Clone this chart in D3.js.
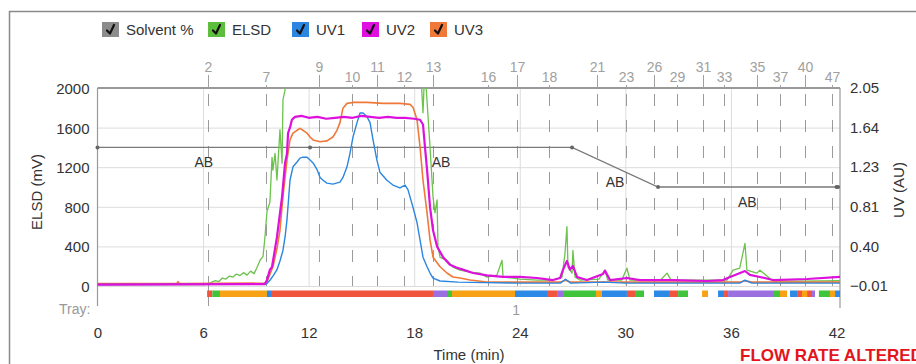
<!DOCTYPE html>
<html><head><meta charset="utf-8">
<script src="https://cdn.jsdelivr.net/npm/d3@7"></script>
<style>
body{margin:0;background:#fff;overflow:hidden;}
svg{font-family:"Liberation Sans",Arial,sans-serif;display:block;}
</style></head><body>
<svg id="c" width="916" height="364"></svg>
<script>
// ---------------- data ----------------
const xTicks=[0,6,12,18,24,30,36,42];
const elsdTicks=[0,400,800,1200,1600,2000];
const uvTicks=[-0.01,0.40,0.81,1.23,1.64,2.05];
const legendNames=["Solvent %","ELSD","UV1","UV2","UV3"];
const legendColors=["#8c8c8c","#5dbd3c","#2a86e0","#e010e0","#f07838"];

const fractionLabels=["2","7","9","10","11","12","13","16","17","18","21","23","26","29","31","33","35","37","40","47"];
const fractionTimes=[6.28,9.58,12.59,14.46,15.88,17.42,19.07,22.19,23.84,25.66,28.39,30.04,31.63,32.94,34.41,35.61,37.48,38.79,40.21,41.74];

const solventTime=[0,12.08,26.97,31.86,42.0,42.2];
const solventPct=[70,70,70,50,50,50];
const solventLabels=["AB","AB","AB","AB"];

const trayStart=[6.23,6.53,6.96,9.63,9.86,19.12,19.92,20.15,23.73,25.6,26.12,26.51,28.33,28.67,30.09,30.55,31.63,32.48,33.0,34.36,35.27,35.61,35.84,38.45,38.79,39.36,39.76,40.04,40.33,40.61,41.0,41.63,41.92];
const trayEnd=[6.53,6.96,9.63,9.86,19.12,19.92,20.15,23.73,25.6,26.12,26.51,28.33,28.67,30.09,30.55,31.06,32.48,33.0,33.56,34.7,35.61,35.84,38.45,38.79,39.19,39.76,40.04,40.33,40.61,40.78,41.63,41.92,42.2];
const trayKind=["r","g","o","b","r","p","g","o","b","r","p","g","o","b","r","g","b","r","g","o","b","r","p","g","o","b","r","o","r","p","g","o","b"];
const trayNumber="1";
const trayNumberTime=23.8;

const elsdT=[0,3.0,6.0,6.3,6.5,6.7,6.9,7.1,7.3,7.5,7.7,7.9,8.1,8.3,8.5,8.7,8.9,9.07,9.24,9.41,9.52,9.63,9.80,9.92,9.97,10.09,10.20,10.37,10.49,10.54,10.66,10.8,18.3,18.5,18.6,18.7,18.9,19.07,19.18,19.30,19.35,19.47,19.86,20.20,20.60,21.17,21.74,22.14,22.70,22.99,23.05,23.62,24.01,24.98,25.89,26.40,26.57,26.68,26.74,26.97,27.02,27.14,27.42,28.5,28.84,29.0,29.8,30.09,30.26,32.0,32.37,32.6,35.78,36.12,36.5,36.80,36.91,37.48,37.65,38.39,40.0,42.2];
const elsdV=[15,15,15,20,40,55,45,80,70,100,90,120,105,135,110,150,125,190,260,300,500,750,850,1300,1170,1340,1070,1580,1240,1880,1980,2400,2400,1750,2200,1950,1400,900,740,870,400,290,260,190,160,140,130,90,110,260,90,80,70,60,60,90,330,600,190,130,360,90,60,70,160,60,60,180,60,60,130,60,60,160,180,430,160,130,160,50,50,55];

const uv1T=[0,9.6,9.80,10.0,10.20,10.37,10.54,10.66,10.77,10.94,11.11,11.34,11.51,11.68,11.91,12.08,12.25,12.48,12.65,12.82,13.04,13.38,13.78,13.95,14.18,14.35,14.52,14.75,14.92,15.09,15.32,15.49,15.66,15.88,16.06,16.45,16.79,17.19,17.48,17.65,17.93,18.16,18.33,18.50,18.73,18.90,19.07,19.47,20.5,22.0,24.0,26.3,26.6,26.9,28.8,30.0,33.0,36.5,36.8,37.2,40.0,42.2];
const uv1V=[0.005,0.01,0.05,0.10,0.16,0.25,0.36,0.50,0.68,1.09,1.23,1.28,1.32,1.33,1.33,1.30,1.27,1.20,1.12,1.09,1.06,1.05,1.07,1.12,1.23,1.37,1.54,1.69,1.79,1.79,1.75,1.69,1.51,1.30,1.17,1.09,1.04,1.01,1.04,0.99,0.81,0.65,0.47,0.29,0.19,0.125,0.073,0.042,0.03,0.025,0.02,0.02,0.06,0.02,0.03,0.02,0.02,0.02,0.05,0.02,0.02,0.02];

const uv2T=[0,9.5,9.63,9.80,9.92,10.20,10.49,10.66,10.77,10.83,10.94,11.05,11.22,11.6,12.0,12.5,13.0,13.5,14.0,14.5,15.0,15.5,16.0,16.5,17.0,17.5,18.0,18.33,18.50,18.61,18.73,18.90,19.07,19.30,19.64,20.03,20.43,20.77,21.34,22.14,23.05,24.01,24.98,25.89,26.29,26.46,26.68,26.85,27.02,27.25,27.82,28.73,28.84,29.13,30.09,30.83,32.71,34.64,35.55,35.95,36.52,36.80,37.08,37.65,38.39,40.33,42.2];
const uv2V=[0.005,0.01,0.05,0.16,0.19,0.50,0.92,1.27,1.37,1.58,1.64,1.72,1.75,1.76,1.74,1.75,1.73,1.74,1.75,1.74,1.76,1.75,1.74,1.75,1.74,1.74,1.73,1.72,1.67,1.44,1.20,0.81,0.57,0.40,0.29,0.21,0.18,0.16,0.125,0.10,0.084,0.084,0.073,0.052,0.073,0.16,0.25,0.16,0.20,0.084,0.052,0.115,0.15,0.052,0.073,0.052,0.052,0.042,0.052,0.084,0.125,0.146,0.105,0.084,0.052,0.063,0.084];

const uv3T=[0,4.5,4.58,4.66,9.6,9.97,10.2,10.37,10.54,10.77,10.94,11.11,11.34,11.51,11.68,11.91,12.08,12.25,12.65,13.04,13.38,13.61,13.78,13.95,14.18,14.52,15.32,16.23,17.19,17.76,17.93,18.16,18.33,18.50,18.73,18.90,19.07,19.47,19.86,20.20,20.60,21.17,22.14,24.0,26.3,26.6,26.9,30.0,36.5,36.8,37.2,42.2];
const uv3V=[0.015,0.015,0.035,0.015,0.02,0.19,0.38,0.57,0.92,1.30,1.51,1.58,1.61,1.63,1.61,1.58,1.54,1.51,1.49,1.50,1.54,1.61,1.69,1.84,1.89,1.90,1.90,1.89,1.89,1.88,1.85,1.72,1.44,1.09,0.75,0.47,0.29,0.19,0.125,0.084,0.073,0.052,0.032,0.03,0.03,0.05,0.03,0.03,0.03,0.045,0.03,0.03];

// ---------------- layout ----------------
const L=97.5,R=840,T=88,B=286;
const legendX=[102,208,292,362,430];
const trayColors={r:"#f2553e",g:"#3fc43c",o:"#f6a214",b:"#2c8ae6",p:"#9b6fe0"};
const svg=d3.select("#c");
const x=d3.scaleLinear().domain([0,42.2]).range([L,R]);
const yL=d3.scaleLinear().domain([0,2000]).range([B,T]);
const yR=d3.scaleLinear().domain([-0.01,2.05]).range([B,T]);
const yS=d3.scaleLinear().domain([0,100]).range([B,T]);

// outer frame
svg.append("path").attr("d","M9.5,364 V11.5 H916").attr("fill","none").attr("stroke","#8a8a8a").attr("stroke-width",1.5);

// legend
const lg=svg.append("g");
legendNames.forEach((n,i)=>{
  const g=lg.append("g").attr("transform",`translate(${legendX[i]},22)`);
  g.append("rect").attr("width",17).attr("height",15).attr("fill",legendColors[i]);
  g.append("path").attr("d","M5,8.5 L8,11.5 L12,3").attr("fill","none").attr("stroke","#111").attr("stroke-width",2.2).attr("stroke-linecap","round").attr("stroke-linejoin","round");
  g.append("text").attr("x",24).attr("y",13).attr("font-size",15).attr("fill","#333").text(n);
});

// grids via axes
const gyL=svg.append("g").attr("transform",`translate(${L},0)`)
  .call(d3.axisLeft(yL).tickValues(elsdTicks).tickSize(-(R-L)).tickPadding(8).tickFormat(d3.format("d")));
gyL.select(".domain").remove();
gyL.selectAll(".tick line").attr("stroke","#dcdcdc");
gyL.selectAll(".tick text").attr("font-size",15).attr("fill","#333").attr("font-family","Liberation Sans,Arial,sans-serif").attr("dy","0.36em");

const gyR=svg.append("g").attr("transform",`translate(${R},0)`)
  .call(d3.axisRight(yR).tickValues(uvTicks).tickSize(0).tickPadding(10).tickFormat(d3.format(".2f")));
gyR.select(".domain").remove();
gyR.selectAll(".tick text").attr("font-size",15).attr("fill","#333").attr("font-family","Liberation Sans,Arial,sans-serif");

const gx=svg.append("g").attr("transform",`translate(0,${T})`)
  .call(d3.axisBottom(x).tickValues(xTicks.filter(d=>d>0&&d<42)).tickSize(B-T).tickFormat(""));
gx.select(".domain").remove();
gx.selectAll(".tick line").attr("stroke","#dcdcdc");

const gxl=svg.append("g").attr("transform",`translate(0,327)`)
  .call(d3.axisBottom(x).tickValues(xTicks).tickSize(0).tickPadding(0));
gxl.select(".domain").remove();
gxl.selectAll(".tick text").attr("font-size",15).attr("fill","#333").attr("font-family","Liberation Sans,Arial,sans-serif");

// frame lines of plot
svg.append("line").attr("x1",L).attr("x2",R).attr("y1",T).attr("y2",T).attr("stroke","#999").attr("stroke-width",2);
svg.append("line").attr("x1",L).attr("x2",L).attr("y1",T).attr("y2",306).attr("stroke","#999").attr("stroke-width",1.2);
svg.append("line").attr("x1",R).attr("x2",R).attr("y1",T).attr("y2",308).attr("stroke","#999").attr("stroke-width",1.2);

// fraction markers
const fg=svg.append("g");
fractionTimes.forEach((t,i)=>{
  const hi=i%2===0;
  const xx=Math.round(x(t))+0.5;
  fg.append("text").attr("x",xx).attr("y",hi?72:82).attr("text-anchor","middle").attr("font-size",14).attr("fill","#a0a0a0").text(fractionLabels[i]);
  fg.append("line").attr("x1",xx).attr("x2",xx).attr("y1",hi?75:85).attr("y2",T).attr("stroke","#a0a0a0");
  fg.append("line").attr("x1",xx).attr("x2",xx).attr("y1",94).attr("y2",B).attr("stroke","#9a9a9a").attr("stroke-dasharray","12,14");
});
{
  const xx=Math.round(x(fractionTimes[0]))+0.5;
  fg.append("line").attr("x1",xx).attr("x2",xx).attr("y1",B).attr("y2",306).attr("stroke","#9a9a9a");
}

// tray bar
svg.append("g").selectAll("rect").data(trayStart).join("rect")
  .attr("x",(d)=>x(d)).attr("width",(d,i)=>x(trayEnd[i])-x(d))
  .attr("y",290.5).attr("height",6.5).attr("fill",(d,i)=>trayColors[trayKind[i]]);
svg.append("text").attr("x",59).attr("y",314).attr("font-size",14).attr("fill","#999").text("Tray:");
svg.append("text").attr("x",x(trayNumberTime)).attr("y",315).attr("text-anchor","middle").attr("font-size",14).attr("fill","#999").text(trayNumber);

// clip
svg.append("clipPath").attr("id","clip").append("rect").attr("x",L).attr("y",T).attr("width",R-L).attr("height",B-T+1);
const plot=svg.append("g").attr("clip-path","url(#clip)");

// solvent line
const sIdx=d3.range(solventTime.length);
plot.append("path").attr("d",d3.line().x(i=>x(solventTime[i])).y(i=>yS(solventPct[i]))(sIdx))
  .attr("fill","none").attr("stroke","#7a7a7a").attr("stroke-width",1.3);
svg.append("g").selectAll("circle").data(sIdx).join("circle")
  .attr("cx",i=>Math.min(x(solventTime[i]),R-2)).attr("cy",i=>yS(solventPct[i])).attr("r",2).attr("fill","#666");
solventLabels.forEach((lab,i)=>{
  const t0=solventTime[i],t1=solventTime[i+1];
  const xm=(x(t0)+x(t1))/2, ym=(yS(solventPct[i])+yS(solventPct[i+1]))/2;
  svg.append("text").attr("x",xm).attr("y",ym+20).attr("text-anchor","middle").attr("font-size",14).attr("fill","#333").text(lab);
});

// series
function drawSeries(T_,V_,yScale,color,w){
  const idx=d3.range(T_.length);
  plot.append("path").attr("d",d3.line().x(i=>x(T_[i])).y(i=>yScale(V_[i]))(idx))
    .attr("fill","none").attr("stroke",color).attr("stroke-width",w).attr("stroke-linejoin","round");
}
drawSeries(elsdT,elsdV,yL,"#6cc24c",1.3);
drawSeries(uv3T,uv3V,yR,"#f07838",1.6);
drawSeries(uv1T,uv1V,yR,"#2a86e0",1.4);
drawSeries(uv2T,uv2V,yR,"#dd10dd",2.2);

// axis titles
svg.append("text").attr("transform","translate(42,192) rotate(-90)").attr("text-anchor","middle").attr("font-size",15).attr("fill","#333").text("ELSD (mV)");
svg.append("text").attr("transform","translate(904,190) rotate(-90)").attr("text-anchor","middle").attr("font-size",15).attr("fill","#333").text("UV (AU)");
svg.append("text").attr("x",469).attr("y",360).attr("text-anchor","middle").attr("font-size",15).attr("fill","#333").text("Time (min)");
svg.append("text").attr("x",740).attr("y",361).attr("font-size",17).attr("font-weight","bold").attr("fill","#e3141c").text("FLOW RATE ALTERED");
</script>
</body></html>
